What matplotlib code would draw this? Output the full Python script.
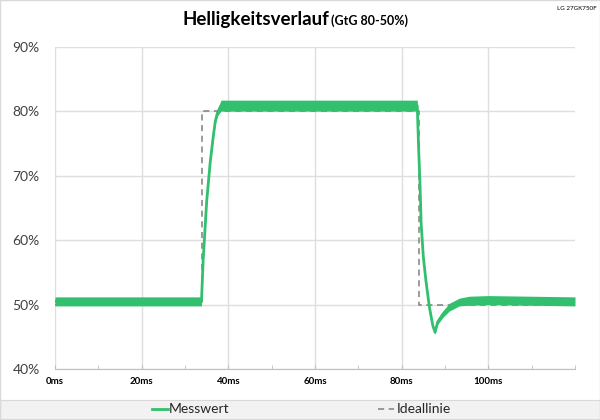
import matplotlib.pyplot as plt
from matplotlib.lines import Line2D
from matplotlib.patches import Rectangle

# --- data (time in ms, brightness in %) ---
time_ms = [0, 33.8, 34.2, 35.0, 35.8, 36.5, 37.0, 37.5, 38.3, 40, 60, 83.6,
           83.9, 84.2, 84.5, 85.0, 85.6, 86.4, 87.2, 87.7, 88.3, 89.5, 91.0,
           93.3, 95.6, 100, 110, 120]
measured = [50.5, 50.5, 57.0, 66.0, 72.0, 76.0, 78.5, 79.8, 80.9, 80.9, 80.9, 80.9,
            74.5, 69.3, 62.5, 57.4, 53.7, 49.6, 46.7, 45.7, 47.3, 48.5, 49.6,
            50.4, 50.6, 50.7, 50.6, 50.5]
noise_half = [0.7, 0.7, 0.3, 0.3, 0.3, 0.3, 0.4, 0.5, 0.85, 0.85, 0.85, 0.85,
              0.3, 0.3, 0.3, 0.3, 0.3, 0.3, 0.3, 0.3, 0.4, 0.5, 0.6,
              0.6, 0.7, 0.7, 0.7, 0.7]

ideal_t = [0, 34, 34, 84, 84, 120]
ideal_v = [50, 50, 80, 80, 50, 50]

x_ticks = [0, 20, 40, 60, 80, 100]
x_labels = ["0ms", "20ms", "40ms", "60ms", "80ms", "100ms"]
y_ticks = [40, 50, 60, 70, 80, 90]
y_labels = ["40%", "50%", "60%", "70%", "80%", "90%"]

GREEN = "#32c06f"
GRAY = "#808080"
FONT = "Lato"

fig = plt.figure(figsize=(6, 4.2), dpi=100)
ax = fig.add_axes([55 / 600, 1 - 369 / 420, 520 / 600, 322 / 420])

# ideal step
ax.plot(ideal_t, ideal_v, color=GRAY, lw=1.1, ls=(0, (4, 3)), zorder=2)

# measured curve with its noise band
lo = [m - h for m, h in zip(measured, noise_half)]
hi = [m + h for m, h in zip(measured, noise_half)]
ax.fill_between(time_ms, lo, hi, color=GREEN, lw=0, zorder=3)
ax.plot(time_ms, measured, color=GREEN, lw=2, zorder=3)

ax.set_xlim(0, 120)
ax.set_ylim(40, 90)
ax.set_xticks(x_ticks)
ax.set_xticklabels(x_labels, fontsize=7, fontweight="bold", family=FONT)
ax.set_xticks(range(0, 121, 10), minor=True)
ax.set_yticks(y_ticks)
ax.set_yticklabels(y_labels, fontsize=10, family=FONT, color="#404040")
ax.tick_params(axis="y", length=0, pad=11)
ax.tick_params(axis="x", which="both", direction="in", length=3, color="#bfbfbf", pad=6)
ax.grid(True, color="#dedede", lw=1)
ax.set_axisbelow(True)
for s in ("top", "right", "left"):
    ax.spines[s].set_visible(False)
ax.spines["bottom"].set_color("#bfbfbf")

# titles
fig.text(329 / 600, 1 - 25 / 420, "Helligkeitsverlauf", ha="right", va="baseline",
         fontsize=13.5, fontweight="bold", family=FONT)
fig.text(331 / 600, 1 - 25 / 420, "(GtG 80-50%)", ha="left", va="baseline",
         fontsize=9, fontweight="bold", family=FONT)
fig.text(597 / 600, 1 - 9 / 420, "LG 27GK750F", ha="right", va="center",
         fontsize=4.5, family=FONT)

# legend bar
fig.patches.append(Rectangle((0, 1 / 420), 1, 19 / 420, transform=fig.transFigure,
                             facecolor="#f2f2f2", edgecolor="#d9d9d9", lw=0.8))
ly = 1 - 409 / 420
fig.add_artist(Line2D([152 / 600, 168 / 600], [ly, ly], transform=fig.transFigure,
                      color=GREEN, lw=2))
fig.text(169 / 600, ly, "Messwert", ha="left", va="center", fontsize=10,
         family=FONT, color="#262626")
fig.add_artist(Line2D([378 / 600, 394 / 600], [ly, ly], transform=fig.transFigure,
                      color=GRAY, lw=1.1, ls=(0, (4, 3))))
fig.text(397 / 600, ly, "Ideallinie", ha="left", va="center", fontsize=10,
         family=FONT, color="#262626")

fig.patches.append(Rectangle((0, 0), 1, 1, transform=fig.transFigure,
                             facecolor="none", edgecolor="#d9d9d9", lw=1))

fig.savefig("out.png", dpi=100)
